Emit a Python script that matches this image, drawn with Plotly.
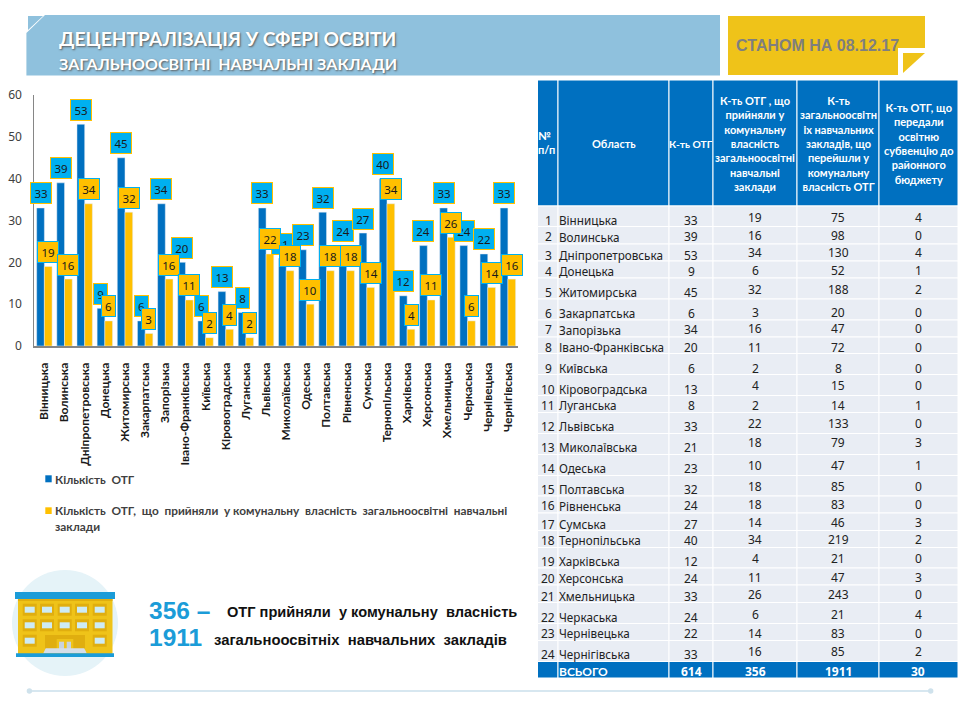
import plotly.graph_objects as go

# ---- data ----
REGIONS = ["Вінницька", "Волинська", "Дніпропетровська", "Донецька", "Житомирська", "Закарпатська",
           "Запорізька", "Івано-Франківська", "Київська", "Кіровоградська", "Луганська", "Львівська",
           "Миколаївська", "Одеська", "Полтавська", "Рівненська", "Сумська", "Тернопільська",
           "Харківська", "Херсонська", "Хмельницька", "Черкаська", "Чернівецька", "Чернігівська"]
OTG = [33, 39, 53, 9, 45, 6, 34, 20, 6, 13, 8, 33, 21, 23, 32, 24, 27, 40, 12, 24, 33, 24, 22, 33]
ACCEPTED = [19, 16, 34, 6, 32, 3, 16, 11, 2, 4, 2, 22, 18, 10, 18, 18, 14, 34, 4, 11, 26, 6, 14, 16]
SCHOOLS = [75, 98, 130, 52, 188, 20, 47, 72, 8, 15, 14, 133, 79, 47, 85, 83, 46, 219, 21, 47, 243, 21, 83, 85]
SUBVENTION = [4, 0, 4, 1, 2, 0, 0, 0, 0, 0, 1, 0, 3, 1, 0, 0, 3, 2, 0, 3, 0, 4, 0, 2]
TOTALS = ["614", "356", "1911", "30"]
HEADERS = ["№<br>п/п", "Область", "К-ть ОТГ",
           "К-ть ОТГ , що<br>прийняли у<br>комунальну<br>власність<br>загальноосвітні<br>навчальні<br>заклади",
           "К-ть<br>загальноосвітн<br>іх навчальних<br>закладів, що<br>перейшли у<br>комунальну<br>власність ОТГ",
           "К-ть ОТГ, що<br>передали<br>освітню<br>субвенцію до<br>районного<br>бюджету"]
NAME_A = "Кількість\u00a0\u00a0ОТГ"
NAME_B1 = "Кількість\u00a0\u00a0ОТГ,\u00a0\u00a0що\u00a0\u00a0прийняли\u00a0\u00a0у\u00a0комунальну\u00a0\u00a0власність\u00a0\u00a0загальноосвітні\u00a0\u00a0навчальні"
NAME_B2 = "заклади"

# ---- style ----
BLUE, YELLOW, CYAN = "#0070C0", "#FFC000", "#00B0F0"
SKY, GOLD, GOLD_D, ACCENT = "#8FC1DD", "#EFC319", "#E0AE0F", "#1B9CD8"
ROW_BG = "#E9EDF4"
W, H = 960, 720
FX = lambda p: p / W
FY = lambda p: 1 - p / H

# table layout (pixel geometry of the slide)
COL_EDGES = [537.5, 558, 669, 713, 797, 879, 958]
ROW_EDGES = [206, 226.5, 244, 261, 278, 299, 320, 337, 353.5, 374.5, 395.5, 412.5, 433.5, 454.5, 475.5,
             496, 513, 530.5, 547.5, 568, 585, 602.5, 623.5, 640.5, 661.5, 678]
LEFT_TEXT_Y = [220, 237, 255, 271, 292, 313, 330, 347, 368, 389, 405, 426, 447, 468, 489, 506, 524, 540,
               561, 578, 596, 617, 633, 654]
RIGHT_TEXT_Y = [217, 236, 253, 270, 289, 312.5, 329, 347, 368, 385, 405, 423, 442, 465, 486, 505, 522, 539,
                558, 577, 594, 614, 633, 651]

shapes = []
ann = []


def rect(x0, y0, x1, y1, color, line=None, lw=0, layer="below"):
    shapes.append(dict(type="rect", xref="paper", yref="paper", x0=FX(x0), x1=FX(x1), y0=FY(y1), y1=FY(y0),
                       fillcolor=color, line=dict(color=line or color, width=lw), layer=layer))


def poly(points, color):
    path = "M " + " L ".join(f"{FX(x):.5f},{FY(y):.5f}" for x, y in points) + " Z"
    shapes.append(dict(type="path", xref="paper", yref="paper", path=path, fillcolor=color, line=dict(width=0),
                       layer="below"))


def circle(cx, cy, r, color):
    shapes.append(dict(type="circle", xref="paper", yref="paper", x0=FX(cx - r), x1=FX(cx + r), y0=FY(cy + r),
                       y1=FY(cy - r), fillcolor=color, line=dict(width=0), layer="below"))


def text(x, y, s, size, color="#222222", family="Noto Sans", bold=False, anchor="center", shadow=None):
    font = dict(size=size, color=color, family=family, weight="bold" if bold else "normal")
    if shadow:
        font["shadow"] = shadow
    ann.append(dict(xref="paper", yref="paper", x=FX(x), y=FY(y), text=s, showarrow=False, xanchor=anchor,
                    yanchor="middle", align=anchor, font=font, borderpad=0, borderwidth=0))


# ---- title and date banners ----
poly([(45, 15), (720, 15), (720, 75.5), (26.4, 75.5), (26.4, 33)], SKY)
poly([(28, 16), (43, 16), (28, 30)], SKY)
SH = "1px 1px 2px #5a5a5a"
text(59, 38, "ДЕЦЕНТРАЛІЗАЦІЯ У СФЕРІ ОСВІТИ", 19.2, "#FFFFFF", "Lato", True, "left", SH)
text(59, 63, "ЗАГАЛЬНООСВІТНІ\u00a0\u00a0НАВЧАЛЬНІ ЗАКЛАДИ", 16, "#FFFFFF", "Lato", True, "left", SH)
poly([(728, 16), (925, 16), (925, 48), (898, 48), (898, 75), (728, 75)], GOLD)
poly([(903, 53), (925, 53), (903, 73)], GOLD)
text(736, 45, "СТАНОМ НА 08.12.17", 16, "#7F7F7F", "Liberation Sans", True, "left")

# ---- bars ----
fig = go.Figure()
fig.add_bar(x=REGIONS, y=OTG, name=NAME_A, marker_color=BLUE)
fig.add_bar(x=REGIONS, y=ACCEPTED, name=NAME_B1 + " " + NAME_B2, marker_color=YELLOW)

# data labels: boxes just above each bar
LABEL_DX = {"a": -3.85, "b": 3.85}
LABEL_DY = 14.5
for key, vals, bg, border in (("a", OTG, CYAN, YELLOW), ("b", ACCEPTED, YELLOW, CYAN)):
    for name, v in zip(REGIONS, vals):
        ann.append(dict(x=name, y=v, xref="x", yref="y", text=str(v), showarrow=False,
                        xanchor="center", yanchor="middle",
                        xshift=LABEL_DX[key], yshift=LABEL_DY, bgcolor=bg, bordercolor=border, borderwidth=1,
                        borderpad=0, width=20 if v >= 10 else 13, height=20, align="center", valign="middle",
                        font=dict(size=11.5, color="#1a1a1a", family="Noto Sans")))

# ---- legend ----
rect(45.3, 475.3, 51.7, 482.3, BLUE)
rect(45.3, 507.3, 51.7, 514, YELLOW)
text(55, 479.3, NAME_A, 11.8, "#404040", "Lato", True, "left")
text(55, 510, NAME_B1, 11.8, "#404040", "Lato", True, "left")
text(55, 526.5, NAME_B2, 11.8, "#404040", "Lato", True, "left")

# ---- table ----
rows = list(zip(range(1, 25), REGIONS, OTG, ACCEPTED, SCHOOLS, SUBVENTION))
for c in range(6):
    x0, x1 = COL_EDGES[c], COL_EDGES[c + 1]
    rect(x0, 80, x1, ROW_EDGES[0], BLUE, "#FFFFFF", 1)
    rect(x0, ROW_EDGES[-2], x1, ROW_EDGES[-1], BLUE, "#FFFFFF", 1)
    for r in range(24):
        rect(x0, ROW_EDGES[r], x1, ROW_EDGES[r + 1], ROW_BG, "#FFFFFF", 1)

text(538, 143, HEADERS[0], 11, "#FFFFFF", "Lato", True, "left")
for c in range(1, 6):
    text((COL_EDGES[c] + COL_EDGES[c + 1]) / 2, 143.5, HEADERS[c], 10.3 if c == 2 else 11, "#FFFFFF", "Lato", True)

COL_CENTERS = [691, 755, 838, 918]
for i, (n, name, a, b, s, v) in enumerate(rows):
    text(548, LEFT_TEXT_Y[i], str(n), 12)
    text(559, LEFT_TEXT_Y[i], name, 11.7, anchor="left")
    text(COL_CENTERS[0], LEFT_TEXT_Y[i], str(a), 12)
    for cx, val in zip(COL_CENTERS[1:], (b, s, v)):
        text(cx, RIGHT_TEXT_Y[i], str(val), 12)
text(559, 671, "ВСЬОГО", 12, "#FFFFFF", "Lato", True, "left")
for cx, val in zip(COL_CENTERS, TOTALS):
    text(cx, 671, val, 12, "#FFFFFF", "Noto Sans", True)

# ---- school icon ----
circle(65, 623, 53, "#E5F3F8")
rect(18, 599, 112.5, 654, GOLD)
rect(18, 599, 112.5, 601, GOLD_D)
rect(15, 592, 115, 599, ACCENT)
WIN_X = [29.7, 47, 64.7, 82, 99.7]
WIN_Y = [609.7, 625.3, 640.7]
for ry, wy in enumerate(WIN_Y):
    for cx, wx in enumerate(WIN_X):
        if ry == 2 and cx in (1, 2, 3):
            continue
        rect(wx - 7, wy - 6, wx + 7, wy + 6, GOLD_D)
        rect(wx - 5, wy - 3, wx + 5, wy + 3, "#CDEBF5")
rect(45, 635, 85, 653, GOLD_D)
rect(56.7, 639, 73.3, 649, GOLD)
rect(59, 641.7, 64, 649, "#C9D3DC")
rect(66.7, 641.7, 71, 649, "#C9D3DC")
poly([(45.7, 648.3), (84.3, 648.3), (86.7, 653.3), (43.3, 653.3)], "#D5DEE8")
rect(16, 653.3, 114, 657, ACCENT)

# ---- bottom callouts ----
text(149.4, 610, "356 –", 24.5, ACCENT, "Liberation Sans", True, "left")
text(149.4, 637, "1911", 24.5, ACCENT, "Liberation Sans", True, "left")
text(227, 612, "ОТГ\u00a0прийняли\u00a0\u00a0у\u00a0комунальну\u00a0\u00a0власність", 14.6, "#111111", "Liberation Sans", True, "left")
text(213.7, 640, "загальноосвітніх\u00a0\u00a0навчальних\u00a0\u00a0закладів", 14.85, "#111111", "Liberation Sans", True, "left")

# ---- footer rule ----
rect(29, 690, 930, 692, "#D7E7F0")
circle(29.4, 691, 2.7, "#CFE2EC")
circle(930.7, 691, 2.7, "#CFE2EC")

fig.update_layout(
    width=W, height=H, margin=dict(l=0, r=0, t=0, b=0, pad=0, autoexpand=False), showlegend=False,
    plot_bgcolor="#FFFFFF", paper_bgcolor="#FFFFFF", barmode="group", bargap=0.235, bargroupgap=0,
    shapes=shapes, annotations=ann, font=dict(family="Noto Sans", color="#404040"),
    xaxis=dict(domain=[FX(34.3), FX(518)], range=[-0.5, 23.5], tickangle=-90, showgrid=False, showline=True,
               linecolor="#868686", linewidth=1.5, ticks="outside", ticklen=10, tickcolor="rgba(0,0,0,0)",
               tickfont=dict(size=12, family="Lato", weight="bold", color="#1a1a1a"),
               categoryorder="array", categoryarray=REGIONS, automargin=False, fixedrange=True),
    yaxis=dict(domain=[FY(346), FY(95)], range=[0, 60], dtick=10, showgrid=False, showline=True,
               linecolor="#868686", linewidth=1, ticks="outside", ticklen=9, tickcolor="rgba(0,0,0,0)",
               tickfont=dict(size=12, family="Noto Sans", color="#404040"), automargin=False, fixedrange=True),
)
fig.write_html("out.html", post_script="document.body.style.margin='0';", config=dict(displayModeBar=False))
